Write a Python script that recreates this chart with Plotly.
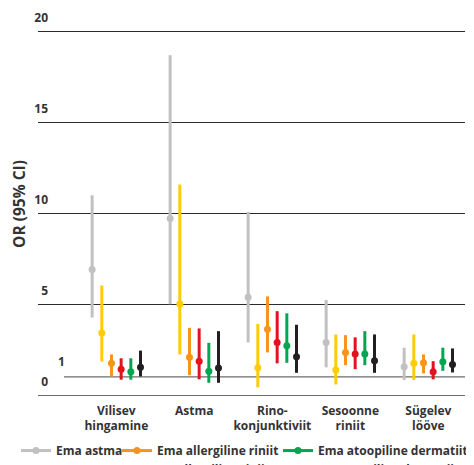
import plotly.graph_objects as go

categories = ["Vilisev<br>hingamine", "Astma", "Rino-<br>konjunktiviit", "Sesoonne<br>riniit", "Sügelev<br>lööve"]
series_names = ["Ema astma", "Isa astma", "Ema allergiline riniit",
                "Isa allergiline riniit", "Ema atoopiline dermatiit", "Isa atoopiline dermatiit"]
series_colors = ["#c1c1c4", "#ffcb05", "#f7941d", "#e2131e", "#00a651", "#231f20"]

# Odds ratios (point estimate) and 95% CI per series, one value per category
or_ema_astma = [6.90, 9.70, 5.38, 2.89, 1.55]
lo_ema_astma = [4.26, 4.99, 2.89, 1.52, 0.82]
hi_ema_astma = [10.98, 18.68, 10.07, 5.22, 2.60]

or_isa_astma = [3.41, 5.00, 1.50, 1.37, 1.74]
lo_isa_astma = [1.84, 2.23, 0.42, 0.58, 0.82]
hi_isa_astma = [6.02, 11.57, 3.90, 3.33, 3.33]

or_ema_riniit = [1.74, 2.07, 3.61, 2.34, 1.77]
lo_ema_riniit = [1.02, 1.09, 2.34, 1.64, 1.19]
hi_ema_riniit = [2.23, 3.69, 5.42, 3.29, 2.23]

or_isa_riniit = [1.41, 1.85, 2.89, 2.25, 1.28]
lo_isa_riniit = [0.84, 0.86, 1.74, 1.42, 0.86]
hi_isa_riniit = [2.02, 3.66, 4.61, 3.17, 1.86]

or_ema_derm = [1.28, 1.30, 2.71, 2.25, 1.83]
lo_ema_derm = [0.84, 0.67, 1.77, 1.64, 1.33]
hi_ema_derm = [2.02, 2.87, 4.49, 3.51, 2.60]

or_isa_derm = [1.53, 1.48, 2.10, 1.88, 1.68]
lo_isa_derm = [1.02, 0.67, 1.22, 1.22, 1.24]
hi_isa_derm = [2.44, 3.51, 3.86, 3.33, 2.56]

y_tick_values = [0, 5, 10, 15, 20]
reference_value = 1

series_or = [or_ema_astma, or_isa_astma, or_ema_riniit, or_isa_riniit, or_ema_derm, or_isa_derm]
series_lo = [lo_ema_astma, lo_isa_astma, lo_ema_riniit, lo_isa_riniit, lo_ema_derm, lo_isa_derm]
series_hi = [hi_ema_astma, hi_isa_astma, hi_ema_riniit, hi_isa_riniit, hi_ema_derm, hi_isa_derm]
legend_ids = ["legend", "legend", "legend2", "legend2", "legend3", "legend3"]

FONT = "Open Sans"
TXT = "#333333"
FS = 12

fig = go.Figure()
n = len(series_names)
gap = 0.124
for j in range(n):
    off = (j - (n - 1) / 2) * gap
    xs, ys, ep, em = [], [], [], []
    for i in range(len(categories)):
        p, lo, hi = series_or[j][i], series_lo[j][i], series_hi[j][i]
        xs += [i + off, None]
        ys += [p, None]
        ep += [hi - p, 0]
        em += [p - lo, 0]
    fig.add_trace(go.Scatter(
        x=xs, y=ys, name=series_names[j], mode="lines+markers",
        connectgaps=False,
        line=dict(color=series_colors[j], width=3),
        marker=dict(color=series_colors[j], size=7),
        error_y=dict(type="data", symmetric=False, array=ep, arrayminus=em,
                     color=series_colors[j], thickness=3, width=0),
        legend=legend_ids[j], hoverinfo="skip",
    ))

# reference line at OR = 1
fig.add_shape(type="line", xref="paper", yref="y", x0=26 / 427, x1=1,
              y0=reference_value, y1=reference_value,
              line=dict(color="#6d6d6d", width=1.2), layer="below")
fig.add_annotation(xref="paper", yref="y", x=23 / 427, y=reference_value, text="1",
                   showarrow=False, yshift=15, xanchor="center",
                   font=dict(family=FONT, size=FS, color=TXT, weight=700))

legend_common = dict(orientation="v", yanchor="top", xanchor="left",
                     bgcolor="rgba(0,0,0,0)", tracegroupgap=0,
                     font=dict(family=FONT, size=FS, color=TXT, weight=700))

fig.update_layout(
    width=474, height=465,
    margin=dict(l=30, r=17, t=5, b=78, autoexpand=False),
    paper_bgcolor="white", plot_bgcolor="white",
    font=dict(family=FONT, size=FS, color=TXT, weight=700),
    xaxis=dict(range=[-1.004, 4.47], tickvals=list(range(len(categories))),
               ticktext=categories, showgrid=False, zeroline=False,
               showline=True, linecolor="#6d6d6d", linewidth=1.2, ticks="",
               ticklabelstandoff=4,
               tickfont=dict(family=FONT, size=FS, color=TXT, weight=700)),
    yaxis=dict(range=[0, 21], tickvals=y_tick_values, showgrid=True,
               gridcolor="#2b2b2b", gridwidth=1, zeroline=False, ticks="",
               ticklabelposition="outside", ticklabelstandoff=-11, ticklabelshift=-13,
               tickfont=dict(family=FONT, size=FS, color=TXT, weight=700)),
    legend=dict(x=-0.0515, y=-0.1075, **legend_common),
    legend2=dict(x=0.185, y=-0.1075, **legend_common),
    legend3=dict(x=0.562, y=-0.1075, **legend_common),
)
fig.update_yaxes(title=dict(text="OR (95% CI)", standoff=12,
                            font=dict(family=FONT, size=15.5, color=TXT, weight=700)))

fig.write_html("out.html")
